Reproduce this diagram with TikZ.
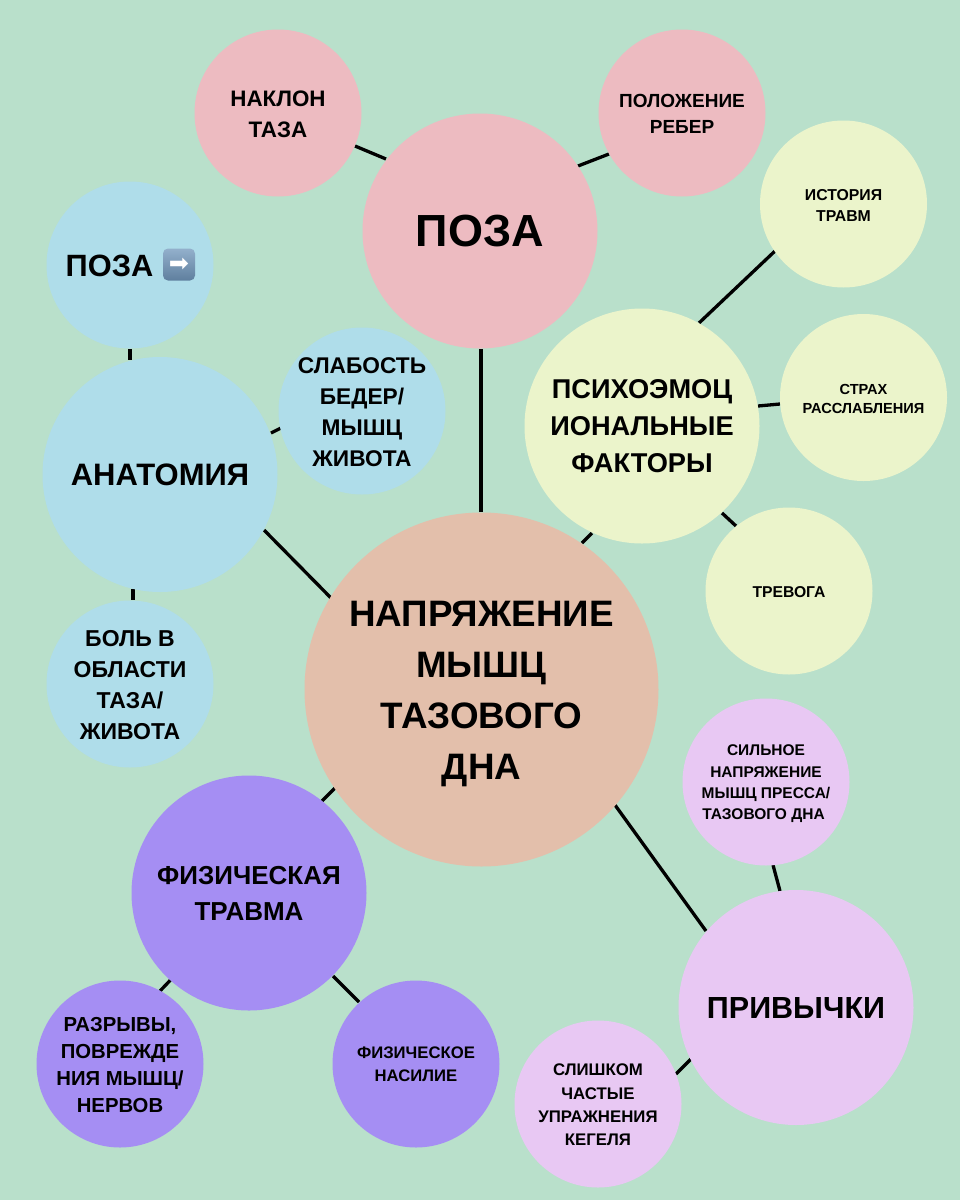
\documentclass[tikz,border=0pt]{standalone}
\usepackage{fontspec}
\setmainfont{Liberation Sans}
\newfontfamily\arrowfont{DejaVu Sans}
\definecolor{bg}{HTML}{B9E0CB}
\definecolor{pink}{HTML}{EDBBC1}
\definecolor{bluec}{HTML}{AFDDEA}
\definecolor{yel}{HTML}{EBF4CB}
\definecolor{lil}{HTML}{E8C8F3}
\definecolor{vio}{HTML}{A58EF3}
\definecolor{core}{HTML}{E3BFAB}
\definecolor{arrowtop}{HTML}{93B0CC}
\definecolor{arrowbot}{HTML}{5F7F9E}
\tikzset{x=1pt,y=-1pt,
 bub/.style={circle,draw=none,inner sep=0pt,align=center,text=black},
 big/.style={bub,minimum size=235pt},
 small/.style={bub,minimum size=167pt},
 tx/.style n args={2}{font=\bfseries\fontsize{#1}{#2}\selectfont},
 txt/.style n args={4}{label={[inner sep=0pt,align=center,text=black,yshift=#3,font=\bfseries\fontsize{#1}{#2}\selectfont]center:{#4}}},
 lbl/.style={inner sep=0pt,text=black},
 emo/.style={rounded corners=5pt,minimum size=32pt,inner sep=0pt,top color=arrowtop,bottom color=arrowbot,text=white,font=\arrowfont\fontsize{24}{24}\selectfont},
 lnk/.style={line width=3.3pt,black}}
\begin{document}
\begin{tikzpicture}
\fill[bg] (0,0) rectangle (960,1200);
\useasboundingbox (0,0) rectangle (960,1200);
% connector ends
\coordinate (l1a) at (481,512); \coordinate (l1b) at (481,349);
\coordinate (l2a) at (332,599); \coordinate (l2b) at (264,530);
\coordinate (l3a) at (582,543); \coordinate (l3b) at (592,533);
\coordinate (l4a) at (615,805); \coordinate (l4b) at (706,931);
\coordinate (l5a) at (335,788); \coordinate (l5b) at (322,801);
\coordinate (a1) at (355,146); \coordinate (a2) at (386,159);
\coordinate (b1) at (609,154); \coordinate (b2) at (578,166);
\coordinate (c1) at (775,251); \coordinate (c2) at (699,323);
\coordinate (d1) at (780,404); \coordinate (d2) at (758,406);
\coordinate (e1) at (736,526); \coordinate (e2) at (722,513);
\coordinate (f1) at (130,349); \coordinate (f2) at (130,360);
\coordinate (g1) at (281,428); \coordinate (g2) at (271,433);
\coordinate (h1) at (133,589); \coordinate (h2) at (133,600);
\coordinate (i1) at (773,865); \coordinate (i2) at (780,891);
\coordinate (j1) at (676,1074); \coordinate (j2) at (691,1059);
\coordinate (k1) at (160,991); \coordinate (k2) at (170.5,980);
\coordinate (m1) at (333,976); \coordinate (m2) at (359,1002);
\foreach \p/\q in {l1a/l1b,l2a/l2b,l3a/l3b,l4a/l4b,l5a/l5b,a1/a2,b1/b2,c1/c2,d1/d2,e1/e2,f1/f2,g1/g2,h1/h2,i1/i2,j1/j2,k1/k2,m1/m2}
  \draw[lnk] (\p)--(\q);
% bubbles
\node[bub,minimum size=354pt,fill=core,txt={36.8}{51}{-4pt}{НАПРЯЖЕНИЕ\\МЫШЦ\\ТАЗОВОГО\\ДНА}] (center) at (481.5,689.5) {};
\node[big,fill=pink,txt={45}{45}{0pt}{ПОЗА}] (poza) at (480,231) {};
\node[small,fill=pink,txt={22.4}{31}{-1pt}{НАКЛОН\\ТАЗА}] (naklon) at (278,113) {};
\node[small,fill=pink,txt={19}{26}{-0.5pt}{ПОЛОЖЕНИЕ\\РЕБЕР}] (rebra) at (682,113) {};
\node[small,fill=bluec] (poza2) at (130,265) {};
\node[lbl,tx={30.8}{31}] (poza2t) at (109.5,266) {ПОЗА};
\node[emo] (poza2e) at (179,264.5) {➡};
\node[big,fill=bluec,txt={31}{31}{0pt}{АНАТОМИЯ}] (anat) at (160,474.5) {};
\node[small,fill=bluec,txt={22.7}{31}{-1pt}{СЛАБОСТЬ\\БЕДЕР/\\МЫШЦ\\ЖИВОТА}] (slab) at (362,411) {};
\node[small,fill=bluec,txt={23}{31}{-1pt}{БОЛЬ В\\ОБЛАСТИ\\ТАЗА/\\ЖИВОТА}] (bol) at (130,684) {};
\node[big,fill=yel,txt={27.2}{37}{-0.5pt}{ПСИХОЭМОЦ\\ИОНАЛЬНЫЕ\\ФАКТОРЫ}] (psy) at (642,426) {};
\node[small,fill=yel,txt={15.8}{21}{-1pt}{ИСТОРИЯ\\ТРАВМ}] (ist) at (843.5,204) {};
\node[small,fill=yel,txt={14.6}{19.5}{-1.5pt}{СТРАХ\\РАССЛАБЛЕНИЯ}] (strah) at (863.5,397.5) {};
\node[small,fill=yel,txt={15.7}{16}{-1.5pt}{ТРЕВОГА}] (trev) at (789,591) {};
\node[small,fill=lil,txt={15.5}{21.3}{-2pt}{СИЛЬНОЕ\\НАПРЯЖЕНИЕ\\МЫШЦ ПРЕССА/\\ТАЗОВОГО ДНА\hspace*{5pt}}] (silno) at (766,782) {};
\node[big,fill=lil,txt={30.5}{31}{0pt}{ПРИВЫЧКИ}] (priv) at (796,1007.5) {};
\node[small,fill=lil,txt={16.8}{23.3}{-1pt}{СЛИШКОМ\\ЧАСТЫЕ\\УПРАЖНЕНИЯ\\КЕГЕЛЯ}] (kegel) at (598,1104) {};
\node[big,fill=vio,txt={26}{36}{0pt}{ФИЗИЧЕСКАЯ\\ТРАВМА}] (fiz) at (249,893) {};
\node[small,fill=vio,txt={20.3}{27}{-1pt}{РАЗРЫВЫ,\\ПОВРЕЖДЕ\\НИЯ МЫШЦ/\\НЕРВОВ}] (razr) at (120,1064) {};
\node[small,fill=vio,txt={16.7}{23}{-0.5pt}{ФИЗИЧЕСКОЕ\\НАСИЛИЕ}] (nasil) at (416,1064) {};
\end{tikzpicture}
\end{document}
